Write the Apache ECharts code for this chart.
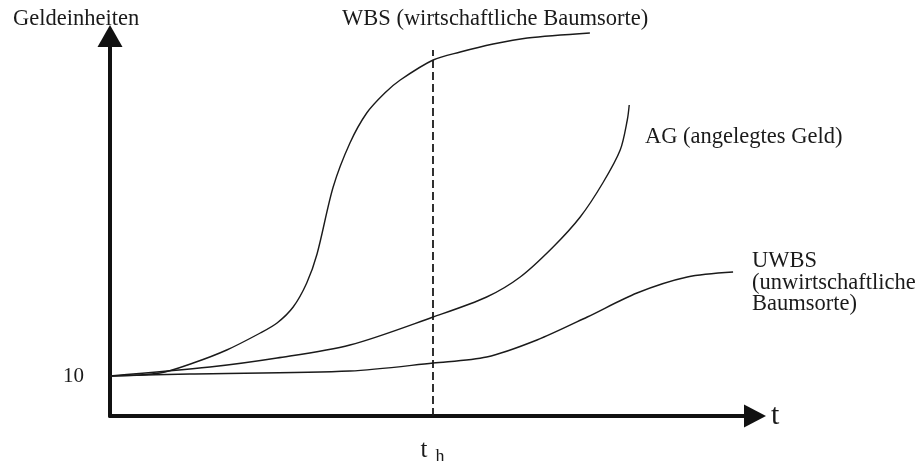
<!DOCTYPE html>
<html>
<head>
<meta charset="utf-8">
<script src="https://cdn.jsdelivr.net/npm/echarts@6/dist/echarts.min.js"></script>
<style>
  html, body { margin: 0; padding: 0; background: #fff; }
  #chart { width: 920px; height: 461px; }
</style>
</head>
<body>
<div id="chart"></div>
<script>
// t values (0..100) and money units
const wbsT = [0, 7.75, 12.9, 18.1, 23.3, 25.9, 28.4, 30.5, 32.1, 34.6, 37.2, 39.8, 42.6, 45, 50.1, 54.3, 59.4, 64.7, 74.4]
const wbsV = [10, 10.75, 13.25, 16.5, 20.75, 23.25, 27.25, 33.25, 40.5, 57.25, 68.25, 75.75, 80.75, 84, 89, 91, 93, 94.5, 95.75]

const agT = [0, 15.5, 25.9, 37.2, 50.1, 58.4, 63.6, 68.7, 72.9, 76.4, 79.1, 80.2, 80.5]
const agV = [10, 12.25, 14.5, 17.75, 24.75, 29.75, 34.75, 42.25, 49.75, 58.25, 66.5, 74, 77.75]

const uwbsT = [0, 12.4, 37.2, 50.1, 58.4, 66.2, 74, 81.7, 89.5, 96.6]
const uwbsV = [10, 10.5, 11.25, 13.25, 14.75, 19, 24.75, 30.75, 34.75, 36]

const tH = 50        // Zeitpunkt t_h
const dashTop = 91.5 // Oberkante der gestrichelten Linie
const startValue = 10

const serif = 'Liberation Serif'
const ink = '#1a1a1a'

const pairs = (xs, ys) => xs.map((x, i) => [x, ys[i]])

const chart = echarts.init(document.getElementById('chart'))

const curve = (name, data) => ({
  name,
  type: 'line',
  data,
  smooth: 0.3,
  symbol: 'none',
  clip: false,
  lineStyle: { color: ink, width: 1.4 }
})

const option = {
  backgroundColor: '#fff',
  animation: false,
  grid: { left: 110, right: 165, top: 36, bottom: 45, outerBoundsMode: 'none' },
  xAxis: {
    type: 'value',
    min: 0,
    max: 100,
    interval: 50,
    name: 't',
    nameLocation: 'end',
    nameGap: 16,
    nameTextStyle: { fontFamily: serif, fontSize: 30, color: ink },
    axisLine: {
      lineStyle: { color: '#111', width: 4 },
      symbol: ['none', 'triangle'],
      symbolSize: [23, 22]
    },
    axisTick: { show: false },
    splitLine: { show: false },
    axisLabel: {
      margin: 22,
      formatter: v => (v === tH ? '{t|t}{h|h}' : ''),
      rich: {
        t: { fontFamily: serif, fontSize: 25, color: ink, verticalAlign: 'top', lineHeight: 28 },
        h: { fontFamily: serif, fontSize: 18, color: ink, verticalAlign: 'bottom', lineHeight: 18, padding: [0, 0, 0, 8] }
      }
    }
  },
  yAxis: {
    type: 'value',
    min: 0,
    max: 95,
    interval: 10,
    axisLine: {
      lineStyle: { color: '#111', width: 4 },
      symbol: ['none', 'triangle'],
      symbolSize: [25, 22]
    },
    axisTick: { show: false },
    splitLine: { show: false },
    axisLabel: {
      margin: 26,
      fontFamily: serif,
      fontSize: 21,
      color: ink,
      formatter: v => (v === startValue ? String(startValue) : '')
    }
  },
  series: [
    Object.assign(curve('WBS', pairs(wbsT, wbsV)), {
      markLine: {
        silent: true,
        symbol: ['none', 'none'],
        label: { show: false },
        lineStyle: { color: ink, type: [8, 4], width: 1.8 },
        data: [[{ coord: [tH, 0] }, { coord: [tH, dashTop] }]]
      }
    }),
    curve('AG', pairs(agT, agV)),
    curve('UWBS', pairs(uwbsT, uwbsV))
  ],
  graphic: [
    {
      type: 'text', left: 13, top: 8,
      style: { text: 'Geldeinheiten', fontFamily: serif, fontSize: 22.5, fill: ink }
    },
    {
      type: 'text', left: 342, top: 8,
      style: { text: 'WBS (wirtschaftliche Baumsorte)', fontFamily: serif, fontSize: 22.5, fill: ink }
    },
    {
      type: 'text', left: 645, top: 126,
      style: { text: 'AG (angelegtes Geld)', fontFamily: serif, fontSize: 22.5, fill: ink }
    },
    {
      type: 'text', left: 752, top: 250,
      style: {
        text: 'UWBS\n(unwirtschaftliche\nBaumsorte)',
        fontFamily: serif, fontSize: 22.5, lineHeight: 21.5, fill: ink
      }
    }
  ]
}

chart.setOption(option)

window.addEventListener('resize', () => {
  chart.resize()
})
</script>
</body>
</html>
